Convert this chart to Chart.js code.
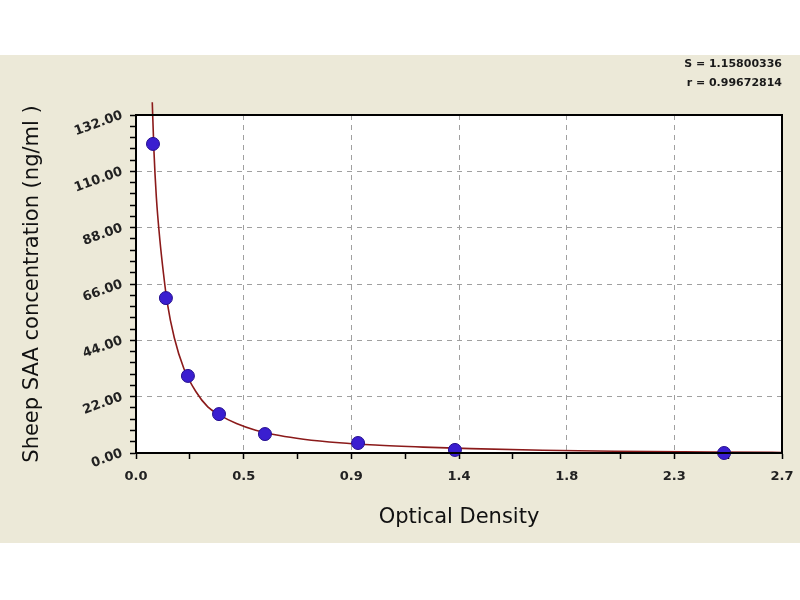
<!DOCTYPE html>
<html lang="en">
  <head>
    <meta charset="UTF-8" />
    <title>Sheep SAA standard curve</title>
    <script src="https://cdn.jsdelivr.net/npm/chart.js"></script>
    <style>
      body { margin: 0; background: #fff; }
    </style>
  </head>
  <body>
    <canvas id="curve" width="800" height="600"></canvas>
    <script>
      // standards
      const odValues = [0.071, 0.125, 0.217, 0.347, 0.539, 0.928, 1.333, 2.458];
      const concValues = [120.7, 60.5, 30.1, 15.2, 7.4, 3.9, 1.2, 0.0];

      // fitted curve
      const fitOd = [0.068, 0.075, 0.085, 0.1, 0.115, 0.13, 0.16, 0.2, 0.25, 0.3, 0.35, 0.42, 0.5, 0.6, 0.7, 0.85, 1.0, 1.2, 1.4, 1.7, 2.0, 2.4, 2.7];
      const fitConc = [137, 118, 100, 83, 70, 59, 45, 33, 24, 18, 14.8, 11.5, 8.9, 6.8, 5.4, 4.0, 3.1, 2.3, 1.7, 1.1, 0.7, 0.4, 0.2];

      const xTickLabels = ["0.0", "0.5", "0.9", "1.4", "1.8", "2.3", "2.7"];
      const yTickLabels = ["0.00", "22.00", "44.00", "66.00", "88.00", "110.00", "132.00"];
      const fitStats = ["S = 1.15800336", "r = 0.99672814"];

      const xMajor = 0.45, yMajor = 22;
      const FONT = "'DejaVu Sans', Verdana, sans-serif";

      const frame = {
        id: "frame",
        beforeDraw(chart) {
          const ctx = chart.ctx;
          const a = chart.chartArea;
          ctx.save();
          ctx.fillStyle = "#ffffff";
          ctx.fillRect(0, 0, chart.width, chart.height);
          ctx.fillStyle = "#ece9d8";
          ctx.fillRect(0, 55, chart.width, 488);
          ctx.fillStyle = "#ffffff";
          ctx.fillRect(a.left, a.top, a.right - a.left, a.bottom - a.top);
          ctx.restore();
        },
        afterDatasetsDraw(chart) {
          const ctx = chart.ctx;
          const a = chart.chartArea;
          ctx.save();
          ctx.setLineDash([]);
          ctx.strokeStyle = "#000";
          ctx.lineWidth = 2;
          ctx.strokeRect(a.left, a.top, a.right - a.left, a.bottom - a.top);
          ctx.fillStyle = "#1a1a1a";
          ctx.font = "bold 11px " + FONT;
          ctx.textAlign = "right";
          ctx.textBaseline = "middle";
          ctx.fillText(fitStats[0], 782, 64);
          ctx.fillText(fitStats[1], 782, 83);
          ctx.restore();
        }
      };

      const isMajor = (v, step) => Math.abs(v / step - Math.round(v / step)) < 1e-6;

      new Chart(document.getElementById("curve"), {
        type: "scatter",
        data: {
          datasets: [
            {
              label: "fit",
              data: fitOd.map((x, i) => ({ x: x, y: fitConc[i] })),
              showLine: true,
              borderColor: "#8b1a1a",
              borderWidth: 1.6,
              pointRadius: 0,
              cubicInterpolationMode: "monotone",
              clip: false,
              order: 2
            },
            {
              label: "standards",
              data: odValues.map((x, i) => ({ x: x, y: concValues[i] })),
              backgroundColor: "#3a1ed0",
              borderColor: "#26108f",
              borderWidth: 1,
              pointRadius: 6.5,
              clip: false,
              order: 1
            }
          ]
        },
        options: {
          responsive: false,
          animation: false,
          layout: { padding: { left: 16, right: 18, top: 115, bottom: 66 } },
          plugins: { legend: { display: false }, tooltip: { enabled: false } },
          scales: {
            x: {
              type: "linear",
              min: 0,
              max: 2.7,
              afterBuildTicks: (scale) => {
                scale.ticks = [];
                for (let i = 0; i <= 12; i++) scale.ticks.push({ value: +(i * 0.225).toFixed(3) });
              },
              afterFit: (scale) => {
                scale.height = 81;
                scale.paddingRight = 0;
                scale.paddingLeft = 0;
              },
              ticks: {
                autoSkip: false,
                maxRotation: 0,
                padding: 10,
                color: "#222",
                font: { family: FONT, size: 13, weight: "bold" },
                callback: (v) => (isMajor(v, xMajor) ? xTickLabels[Math.round(v / xMajor)] : "")
              },
              grid: {
                color: (c) => (c.tick && isMajor(c.tick.value, xMajor) ? "#a0a0a0" : "rgba(0,0,0,0)"),
                tickColor: "#000",
                tickBorderDash: [],
                tickLength: 6,
                tickWidth: 1.5
              },
              border: { display: true, color: "#000", width: 2, dash: [5, 5] },
              title: {
                display: true,
                text: "Optical Density",
                color: "#111",
                font: { family: FONT, size: 21 },
                padding: 4
              }
            },
            y: {
              type: "linear",
              min: 0,
              max: 132,
              afterBuildTicks: (scale) => {
                scale.ticks = [];
                for (let i = 0; i <= 30; i++) scale.ticks.push({ value: +(i * 4.4).toFixed(2) });
              },
              afterFit: (scale) => { scale.width = 120; },
              ticks: {
                autoSkip: false,
                minRotation: 20,
                maxRotation: 20,
                padding: 8,
                color: "#222",
                font: { family: FONT, size: 13, weight: "bold" },
                callback: (v) => (isMajor(v, yMajor) ? yTickLabels[Math.round(v / yMajor)] : "")
              },
              grid: {
                color: (c) => (c.tick && isMajor(c.tick.value, yMajor) ? "#a0a0a0" : "rgba(0,0,0,0)"),
                tickColor: "#000",
                tickBorderDash: [],
                tickLength: 6,
                tickWidth: 1.5
              },
              border: { display: true, color: "#000", width: 2, dash: [5, 5] },
              title: {
                display: true,
                text: "Sheep SAA concentration (ng/ml )",
                color: "#111",
                font: { family: FONT, size: 21 },
                padding: 4
              }
            }
          }
        },
        plugins: [frame]
      });
    </script>
  </body>
</html>
